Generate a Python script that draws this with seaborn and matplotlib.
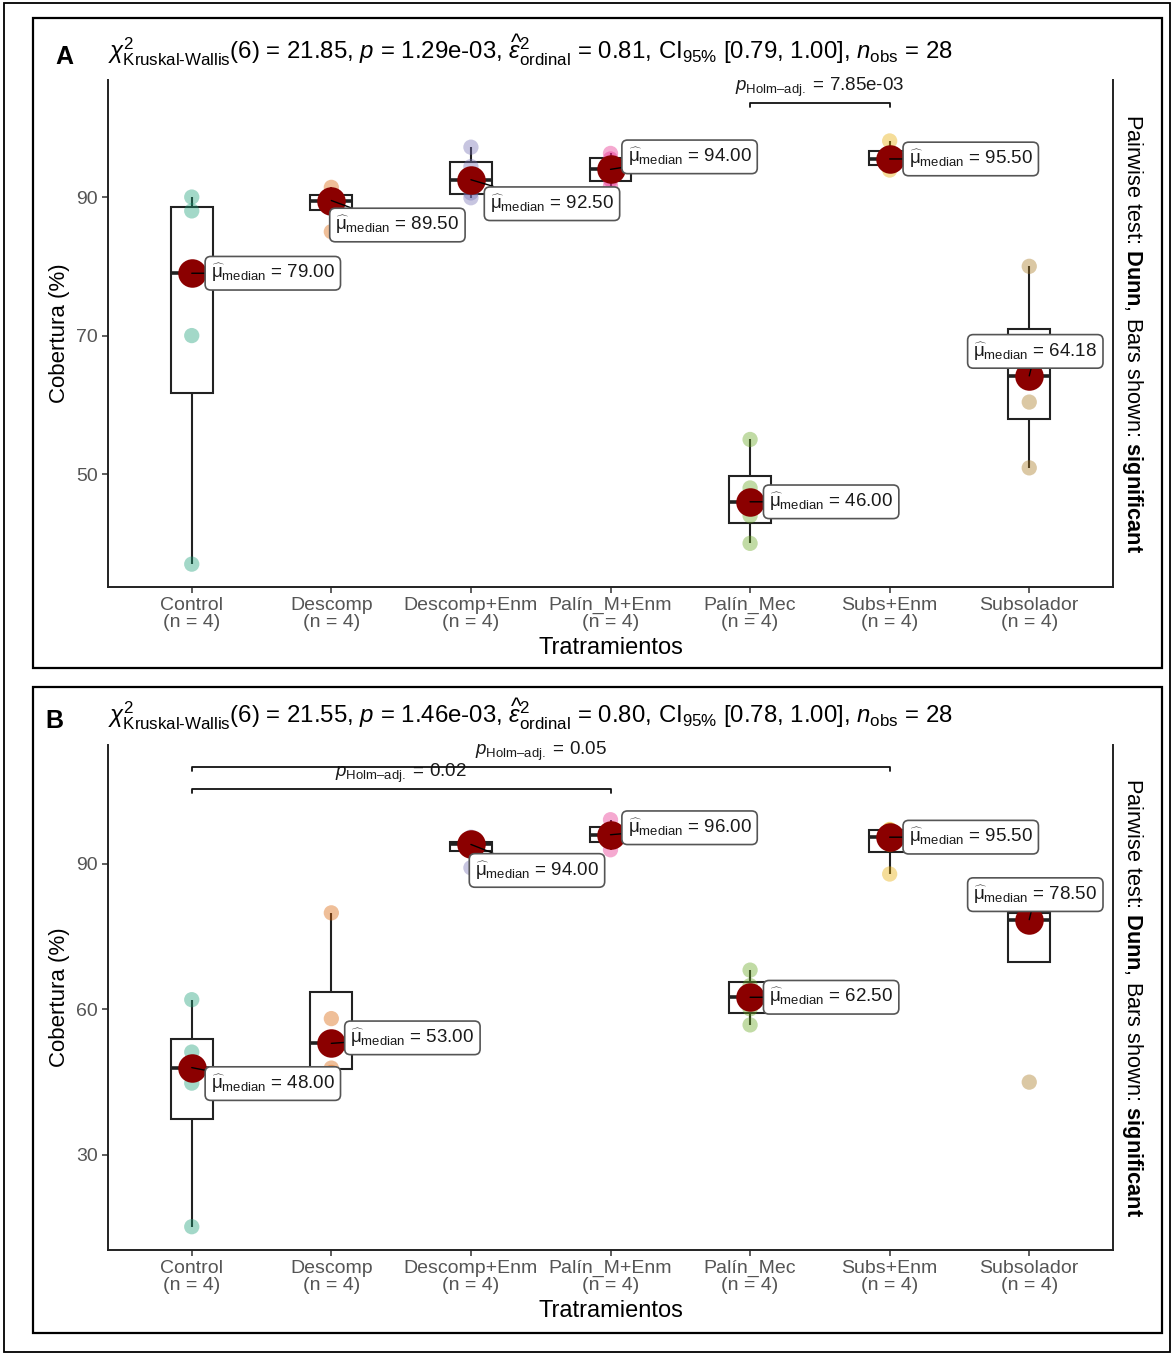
import matplotlib
matplotlib.use("Agg")
import numpy as np
import pandas as pd
import matplotlib.pyplot as plt
import seaborn as sns
from matplotlib.patches import Rectangle

# ------------------------------------------------------------------ data
categories = ["Control", "Descomp", "Descomp+Enm", "Palín_M+Enm",
              "Palín_Mec", "Subs+Enm", "Subsolador"]
n_per_group = [4, 4, 4, 4, 4, 4, 4]

# Panel A – Cobertura (%)
a_control = [37.0, 70.0, 88.0, 90.0]
a_descomp = [85.0, 89.1, 89.9, 91.4]
a_descomp_enm = [89.9, 90.6, 94.4, 97.2]
a_palin_m_enm = [91.6, 92.5, 95.5, 96.3]
a_palin_mec = [40.0, 44.0, 48.0, 55.0]
a_subs_enm = [93.9, 94.8, 96.2, 98.1]
a_subsolador = [50.9, 60.4, 67.96, 80.0]

# Panel B – Cobertura (%)
b_control = [15.2, 44.8, 51.2, 62.0]
b_descomp = [47.0, 47.9, 58.1, 79.9]
b_descomp_enm = [89.2, 93.9, 94.1, 95.5]
b_palin_m_enm = [92.9, 95.0, 97.0, 99.1]
b_palin_mec = [56.8, 60.1, 64.9, 68.1]
b_subs_enm = [87.9, 94.0, 97.0, 97.1]
b_subsolador = [45.0, 78.0, 79.0, 82.5]

# Kruskal-Wallis summary
panel_letters = ["A", "B"]
kw_df = [6, 6]
kw_chi2 = ["21.85", "21.55"]
kw_p = ["1.29e-03", "1.46e-03"]
eps2 = ["0.81", "0.80"]
ci_low = ["0.79", "0.78"]
ci_high = ["1.00", "1.00"]
n_obs = [28, 28]

# pairwise (Dunn, Holm-adjusted) significant comparisons
pairs_A = [("Palín_Mec", "Subs+Enm", "7.85e-03")]
pairs_B = [("Control", "Subs+Enm", "0.05"), ("Control", "Palín_M+Enm", "0.02")]

y_ticks_A = [50, 70, 90]
y_ticks_B = [30, 60, 90]

dark2 = ["#1B9E77", "#D95F02", "#7570B3", "#E7298A", "#66A61E", "#E6AB02", "#A6761D"]

# ------------------------------------------------------------------ layout (pixels)
W, H = 1172, 1355
layout = {
    "A": dict(ax=(108, 80, 1113, 587), frame=(33, 18, 1162, 668), title_y=50,
              letter=(64, 57), ylim=(33.7, 106.9), bracket_y=[103.6], tick_drop=0.6,
              lab_off=[(13, 0), (-2, 24.5), (13, 24), (11, -12.5), (13, 0), (13, 0), (-62, -24.5)]),
    "B": dict(ax=(108, 745, 1113, 1250), frame=(33, 687, 1162, 1333), title_y=714,
              letter=(54, 721), ylim=(10.4, 114.5), bracket_y=[110.0, 105.5], tick_drop=0.8,
              lab_off=[(13, 16), (13, -5.5), (-2, 26), (11, -7), (13, 0), (13, 0), (-62, -25)]),
}

sns.set_theme(style="white")
plt.rcParams["font.family"] = ["Liberation Sans", "DejaVu Sans"]
plt.rcParams["mathtext.fontset"] = "custom"
plt.rcParams["mathtext.rm"] = "Liberation Sans"
plt.rcParams["mathtext.it"] = "Liberation Sans:italic"
plt.rcParams["mathtext.bf"] = "Liberation Sans:bold"

fig = plt.figure(figsize=(W / 100, H / 100), dpi=100)


def fx(px):
    return px / W


def fy(py):
    return 1 - py / H


# outer figure border
fig.add_artist(Rectangle((fx(4), fy(1352)), fx(1170) - fx(4), fy(3) - fy(1352),
                         transform=fig.transFigure, fill=False, lw=1.3, ec="black"))

panel_groups = {
    "A": [a_control, a_descomp, a_descomp_enm, a_palin_m_enm, a_palin_mec, a_subs_enm, a_subsolador],
    "B": [b_control, b_descomp, b_descomp_enm, b_palin_m_enm, b_palin_mec, b_subs_enm, b_subsolador],
}
panel_pairs = {"A": pairs_A, "B": pairs_B}
panel_ticks = {"A": y_ticks_A, "B": y_ticks_B}

for k, letter in enumerate(panel_letters):
    L = layout[letter]
    x0, y0, x1, y1 = L["ax"]
    groups = panel_groups[letter]
    df = pd.DataFrame({
        "Tratamiento": np.repeat(categories, [len(g) for g in groups]),
        "Cobertura": np.concatenate(groups),
    })

    # panel frame
    fx0, fy0, fx1, fy1 = L["frame"]
    fig.add_artist(Rectangle((fx(fx0), fy(fy1)), fx(fx1) - fx(fx0), fy(fy0) - fy(fy1),
                             transform=fig.transFigure, fill=False, lw=1.6, ec="black"))

    ax = fig.add_axes([fx(x0), fy(y1), fx(x1) - fx(x0), fy(y0) - fy(y1)])

    sns.boxplot(data=df, x="Tratamiento", y="Cobertura", order=categories,
                width=0.3, color="white", linecolor="#222222", linewidth=1.5,
                showfliers=False, showcaps=False, whis=1.5,
                medianprops=dict(lw=2.6, color="#222222"), ax=ax, zorder=2)
    sns.stripplot(data=df, x="Tratamiento", y="Cobertura", order=categories,
                  hue="Tratamiento", hue_order=categories, palette=dark2,
                  jitter=False, size=11, alpha=0.4, linewidth=0, legend=False,
                  ax=ax, zorder=3)
    sns.pointplot(data=df, x="Tratamiento", y="Cobertura", order=categories,
                  estimator="median", errorbar=None, linestyle="none",
                  color="darkred", markers="o", markersize=18.5, ax=ax, zorder=5)

    medians = df.groupby("Tratamiento")["Cobertura"].median()
    for i, cat in enumerate(categories):
        m = medians[cat]
        dx, dy = L["lab_off"][i]
        ax.annotate(r"$\widehat{\mathrm{\mu}}_{\mathrm{median}}$ = " + f"{m:.2f}",
                    xy=(i, m), xytext=(dx + 6, -dy), textcoords="offset pixels",
                    ha="left", va="center", fontsize=13.5, color="#1a1a1a", zorder=6,
                    bbox=dict(boxstyle="round,pad=0.3,rounding_size=0.3", fc="white",
                              ec="#555555", lw=1.2),
                    arrowprops=dict(arrowstyle="-", color="black", lw=1,
                                    shrinkA=0, shrinkB=0))

    # significance brackets
    for (g1, g2, pv), by in zip(panel_pairs[letter], L["bracket_y"]):
        i1, i2 = categories.index(g1), categories.index(g2)
        td = L["tick_drop"]
        ax.plot([i1, i1, i2, i2], [by - td, by, by, by - td], color="#111111", lw=1.3,
                zorder=4, clip_on=False)
        ax.annotate(r"$\mathit{p}_{\mathrm{Holm–adj.}}$ = " + pv, xy=((i1 + i2) / 2, by),
                    xytext=(0, 4), textcoords="offset pixels", ha="center", va="bottom",
                    fontsize=13.5, color="#1a1a1a", annotation_clip=False)

    ax.set_xlim(-0.6, 6.6)
    ax.set_ylim(*L["ylim"])
    ax.set_yticks(panel_ticks[letter])
    ax.set_xticks(range(len(categories)))
    ax.set_xticklabels([f"{c}\n(n = {n})" for c, n in zip(categories, n_per_group)],
                       linespacing=1.0)
    ax.tick_params(axis="both", labelsize=14, labelcolor="#555555", color="#333333",
                   length=4, width=1.1, direction="out", bottom=True, left=True)
    ax.tick_params(axis="x", pad=3)
    for s in ["left", "bottom", "right"]:
        ax.spines[s].set_visible(True)
        ax.spines[s].set_color("#222222")
        ax.spines[s].set_linewidth(1.4)
    ax.spines["top"].set_visible(False)
    ax.grid(False)

    ax.set_xlabel("Tratramientos", fontsize=17, color="black")
    ax.set_ylabel("Cobertura (%)", fontsize=16, color="black")
    ax.xaxis.set_label_coords(0.5, -(637 - 587) / (y1 - y0))
    ax.yaxis.set_label_coords(-0.038, 0.5)

    ax.text(1.0199, 0.5, r"Pairwise test: $\mathbf{Dunn}$, Bars shown: $\mathbf{significant}$",
            transform=ax.transAxes, rotation=270, ha="center", va="center",
            fontsize=15.7, color="black")

    # title (statistical summary)
    title = (r"$\chi^2_{\mathrm{Kruskal‐Wallis}}$(" + f"{kw_df[k]}" + r") = " + kw_chi2[k]
             + r", $\mathit{p}$ = " + kw_p[k]
             + r", $\widehat{\varepsilon}^2_{\mathrm{ordinal}}$ = " + eps2[k]
             + r", CI$_{95\%}$ [" + ci_low[k] + ", " + ci_high[k] + "], "
             + r"$\mathit{n}_{\mathrm{obs}}$ = " + f"{n_obs[k]}")
    fig.text(fx(108), fy(L["title_y"]), title, ha="left", va="center",
             fontsize=17.3, color="black")
    fig.text(fx(L["letter"][0]), fy(L["letter"][1]), letter, ha="center", va="center",
             fontsize=18, fontweight="bold", color="black")

fig.savefig("out.png", dpi=100, facecolor="white")
